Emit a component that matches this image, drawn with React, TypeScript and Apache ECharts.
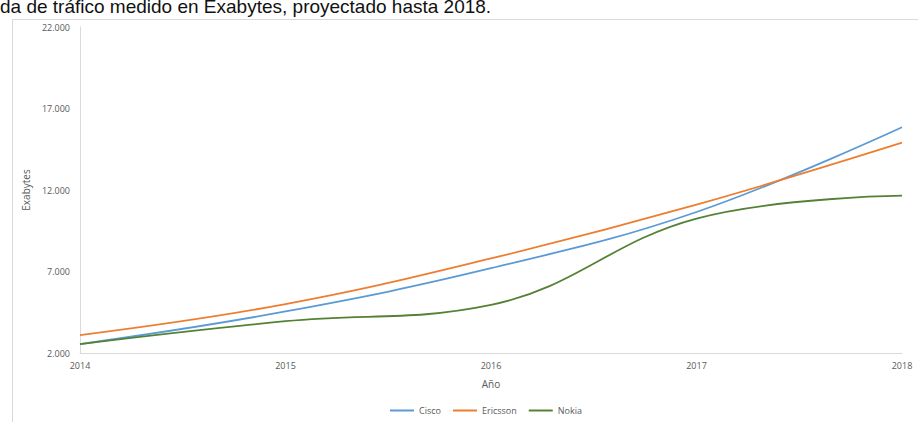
import React, { useEffect, useRef } from "react";
import * as echarts from "echarts";

const years = ["2014", "2015", "2016", "2017", "2018"];
const cisco = [2550, 4550, 7200, 10650, 15850];
const ericsson = [3100, 5000, 7800, 11100, 14900];
const nokia = [2550, 3950, 4950, 10250, 11650];
const yTicks = [2000, 7000, 12000, 17000, 22000];
const titleText = "da de tráfico medido en Exabytes, proyectado hasta 2018.";

const fmt = (v: number) => String(v).replace(/\B(?=(\d{3})+(?!\d))/g, ".");

export default function App() {
  const ref = useRef<HTMLDivElement>(null);
  useEffect(() => {
    document.body.style.margin = "0";
    const chart = echarts.init(ref.current!, null, { renderer: "svg" });
    const font = "Open Sans, Lato, sans-serif";
    const txt = "#595959";
    chart.setOption({
      animation: false,
      backgroundColor: "#ffffff",
      textStyle: { fontFamily: font },
      graphic: [
        {
          type: "text",
          left: 0,
          top: -3,
          style: { text: titleText, fill: "#111", font: "19px 'Liberation Sans', Arial, sans-serif" },
        },
        {
          type: "rect",
          shape: { x: 12.5, y: 19.5, width: 1000, height: 1000 },
          style: { fill: "none", stroke: "#d9d9d9", lineWidth: 1 },
          silent: true,
        },
      ],
      grid: { left: 80, right: 16, top: 27, bottom: 69, containLabel: false, outerBoundsMode: "none" },
      legend: {
        top: 405,
        left: 390,
        padding: 0,
        itemWidth: 24,
        itemHeight: 2,
        itemGap: 12,
        icon: "rect",
        textStyle: { fontSize: 9, color: txt, fontFamily: font, lineHeight: 11 },
        data: ["Cisco", "Ericsson", "Nokia"],
      },
      xAxis: {
        type: "category",
        data: years,
        boundaryGap: false,
        name: "Año",
        nameLocation: "middle",
        nameGap: 26,
        nameTextStyle: { fontSize: 10, color: txt },
        axisLine: { lineStyle: { color: "#d9d9d9" } },
        axisTick: { show: false },
        axisLabel: { fontSize: 9, color: txt, margin: 8 },
        splitLine: { show: false },
      },
      yAxis: {
        type: "value",
        min: 2000,
        max: 22000,
        name: "Exabytes",
        nameLocation: "middle",
        nameGap: 44,
        nameTextStyle: { fontSize: 10, color: txt },
        axisLine: { show: true, lineStyle: { color: "#d9d9d9" } },
        axisTick: { show: false, customValues: yTicks },
        axisLabel: { fontSize: 9, color: txt, margin: 10, customValues: yTicks, formatter: (v: number) => fmt(v) },
        splitLine: { show: false },
      },
      series: [
        { name: "Cisco", type: "line", data: cisco, smooth: 0.4, symbol: "none", lineStyle: { width: 1.8, color: "#5B9BD5" }, itemStyle: { color: "#5B9BD5" } },
        { name: "Ericsson", type: "line", data: ericsson, smooth: 0.4, symbol: "none", lineStyle: { width: 1.8, color: "#ED7D31" }, itemStyle: { color: "#ED7D31" } },
        { name: "Nokia", type: "line", data: nokia, smooth: 0.4, symbol: "none", lineStyle: { width: 1.8, color: "#548235" }, itemStyle: { color: "#548235" } },
      ],
    });
    return () => chart.dispose();
  }, []);
  return <div ref={ref} style={{ width: 918, height: 422 }} />;
}
